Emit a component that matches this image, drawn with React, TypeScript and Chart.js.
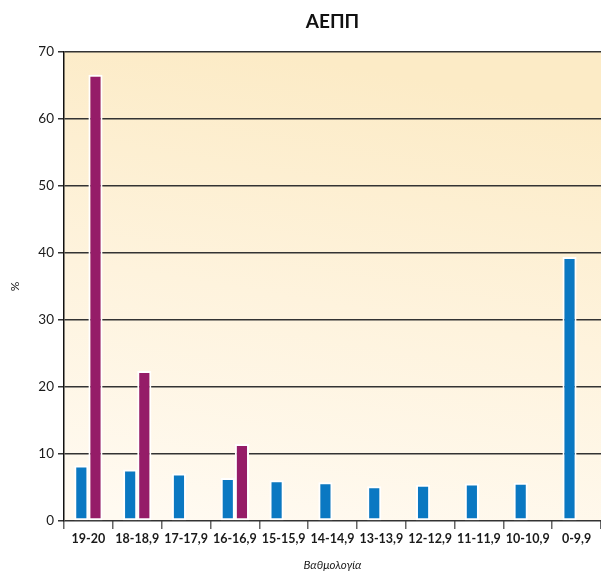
import React, { useEffect, useRef } from "react";
import { Chart, registerables } from "chart.js";

Chart.register(...registerables);

const TITLE = "ΑΕΠΠ";
const X_TITLE = "Βαθμολογία";
const Y_TITLE = "%";
const categories = ["19-20", "18-18,9", "17-17,9", "16-16,9", "15-15,9", "14-14,9", "13-13,9", "12-12,9", "11-11,9", "10-10,9", "0-9,9"];
const blueValues = [8.3, 7.7, 7.1, 6.4, 6.1, 5.8, 5.2, 5.4, 5.6, 5.7, 39.4];
const purpleValues: (number | null)[] = [66.6, 22.4, null, 11.5, null, null, null, null, null, null, null];
const yTicks = [0, 10, 20, 30, 40, 50, 60, 70];

const bgPlugin = {
  id: "bgPlugin",
  beforeDraw(chart: any) {
    const { ctx, chartArea } = chart;
    if (!chartArea) return;
    const { left, top, right, bottom } = chartArea;
    const g = ctx.createLinearGradient(left + 200, top, left + 120, bottom);
    g.addColorStop(0, "#fcebc6");
    g.addColorStop(0.5, "#fef3dd");
    g.addColorStop(1, "#fffaf1");
    ctx.save();
    ctx.fillStyle = g;
    ctx.fillRect(left, top, right - left, bottom - top);
    ctx.restore();
  },
  afterDraw(chart: any) {
    const { ctx, chartArea } = chart;
    ctx.save();
    ctx.font = "bold 19px Lato, 'Open Sans', sans-serif";
    ctx.fillStyle = "#111";
    ctx.textAlign = "center";
    ctx.textBaseline = "middle";
    ctx.fillText(TITLE, (chartArea.left + chartArea.right) / 2, 22);
    ctx.restore();
  },
};

export default function App() {
  const ref = useRef<HTMLCanvasElement | null>(null);
  useEffect(() => {
    if (!ref.current) return;
    const chart = new Chart(ref.current, {
      type: "bar",
      data: {
        labels: categories,
        datasets: [
          {
            label: "A",
            data: blueValues,
            backgroundColor: "#0a78c2",
            borderColor: "#ffffff",
            borderWidth: 2,
            borderSkipped: false,
          },
          {
            label: "B",
            data: purpleValues,
            backgroundColor: "#951c68",
            borderColor: "#ffffff",
            borderWidth: 2,
            borderSkipped: false,
          },
        ],
      },
      options: {
        responsive: false,
        animation: false,
        devicePixelRatio: 1,
        layout: { padding: { top: 52, right: 0, left: 0, bottom: 0 } },
        datasets: { bar: { categoryPercentage: 0.58, barPercentage: 1.0 } },
        plugins: {
          legend: { display: false },
          title: { display: false },
          tooltip: { enabled: false },
        },
        scales: {
          x: {
            offset: true,
            grid: {
              offset: true,
              drawOnChartArea: false,
              drawTicks: true,
              tickLength: 8,
              color: "#666",
              lineWidth: 1.5,
            },
            border: { display: false },
            ticks: {
              color: "#1a1a1a",
              font: { family: "Lato, 'Open Sans', sans-serif", size: 12.5, weight: "bold" },
              padding: 2,
              maxRotation: 0,
              autoSkip: false,
            },
            title: {
              display: true,
              text: X_TITLE,
              color: "#1a1a1a",
              font: { family: "Lato, 'Open Sans', sans-serif", size: 11.5, style: "italic" },
              padding: { top: 0, bottom: 2 },
            },
            afterFit: (scale: any) => {
              scale.height = 53;
            },
          },
          y: {
            min: 0,
            max: 70,
            afterBuildTicks: (scale: any) => {
              scale.ticks = yTicks.map((v) => ({ value: v }));
            },
            grid: {
              color: "#333",
              lineWidth: 1.5,
              drawTicks: true,
              tickLength: 6,
            },
            border: { display: true, color: "#111", width: 1.5 },
            ticks: {
              color: "#1a1a1a",
              font: { family: "Lato, 'Open Sans', sans-serif", size: 13.5 },
              padding: 4,
            },
            title: {
              display: true,
              text: Y_TITLE,
              color: "#1a1a1a",
              font: { family: "Lato, 'Open Sans', sans-serif", size: 12 },
              padding: { top: 8, bottom: 0 },
            },
            afterFit: (scale: any) => {
              scale.width = 64;
            },
          },
        },
      },
      plugins: [bgPlugin],
    } as any);
    return () => chart.destroy();
  }, []);
  return (
    <div style={{ position: "fixed", left: 0, top: 0, width: 601, height: 574, background: "#fff" }}>
      <canvas ref={ref} width={601} height={574} style={{ display: "block", width: 601, height: 574 }} />
    </div>
  );
}
